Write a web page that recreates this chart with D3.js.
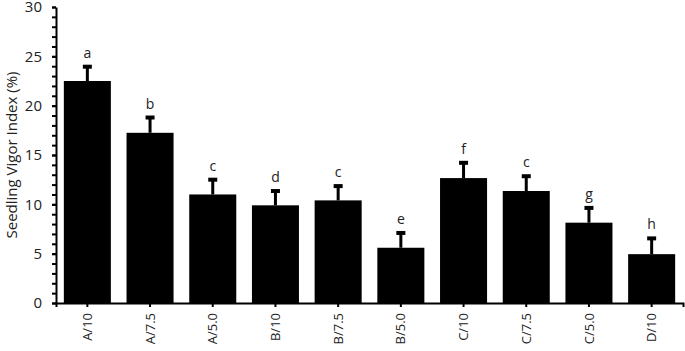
<html>
<head>
<script src="https://d3js.org/d3.v7.min.js"></script>
<style>
  body { margin: 0; background: #fff; }
  text { font-family: "Open Sans", "Liberation Sans", sans-serif; }
</style>
</head>
<body>
<svg id="chart" width="685" height="351"></svg>
<script>
var categories = ["A/10", "A/7.5", "A/5.0", "B/10", "B/7.5", "B/5.0", "C/10", "C/7.5", "C/5.0", "D/10"];
var values = [22.5, 17.25, 11.0, 9.9, 10.4, 5.6, 12.66, 11.35, 8.14, 4.95];
var errors = [1.55, 1.65, 1.6, 1.55, 1.55, 1.6, 1.65, 1.6, 1.6, 1.7];
var letters = ["a", "b", "c", "d", "c", "e", "f", "c", "g", "h"];
var yTicks = [0, 5, 10, 15, 20, 25, 30];

// note: "top" is reserved on window, so plot edges get their own names
var plotLeft = 56, plotRight = 683, plotTop = 7, plotBottom = 303;
var svg = d3.select("#chart");

var x = d3.scaleBand().domain(categories).range([plotLeft, plotRight]).paddingInner(0.25).paddingOuter(0.125);
var y = d3.scaleLinear().domain([0, 30]).range([plotBottom, plotTop]);

// minor ticks every unit
svg.append("g")
  .attr("transform", "translate(" + plotLeft + ",0)")
  .call(d3.axisLeft(y).tickValues(d3.range(0, 31)).tickSize(4).tickSizeOuter(0).tickFormat(""))
  .call(function(g){ g.selectAll("path, line").attr("stroke", "#000").attr("stroke-width", 2); });

var yAxis = svg.append("g")
  .attr("transform", "translate(" + plotLeft + ",0)")
  .call(d3.axisLeft(y).tickValues(yTicks).tickSize(4).tickPadding(10))
  .call(function(g){ g.select(".domain").remove(); });
yAxis.selectAll("line").attr("stroke", "#000").attr("stroke-width", 2);
yAxis.selectAll("text").attr("font-size", 15).attr("fill", "#222");

var xAxis = svg.append("g")
  .attr("transform", "translate(0," + plotBottom + ")")
  .call(d3.axisBottom(x).tickSize(4).tickSizeOuter(4));
xAxis.selectAll("path, line").attr("stroke", "#000").attr("stroke-width", 2);
xAxis.selectAll("text")
  .attr("font-size", 13).attr("fill", "#222")
  .attr("transform", "rotate(-90)")
  .attr("text-anchor", "end")
  .attr("x", -10).attr("y", 0).attr("dy", "0.35em");

svg.append("g").selectAll("rect").data(values).join("rect")
  .attr("x", function(d, i){ return x(categories[i]); })
  .attr("y", function(d){ return y(d); })
  .attr("width", x.bandwidth())
  .attr("height", function(d){ return plotBottom - y(d); })
  .attr("fill", "#000");

var eb = svg.append("g");
eb.selectAll("line").data(values).join("line")
  .attr("x1", function(d, i){ return x(categories[i]) + x.bandwidth() / 2; })
  .attr("x2", function(d, i){ return x(categories[i]) + x.bandwidth() / 2; })
  .attr("y1", function(d){ return y(d); })
  .attr("y2", function(d, i){ return y(d + errors[i]); })
  .attr("stroke", "#000").attr("stroke-width", 3);
eb.selectAll("rect").data(values).join("rect")
  .attr("x", function(d, i){ return x(categories[i]) + x.bandwidth() / 2 - 4.5; })
  .attr("y", function(d, i){ return y(d + errors[i]) - 1; })
  .attr("width", 9).attr("height", 4)
  .attr("fill", "#000");

svg.append("g").selectAll("text").data(values).join("text")
  .attr("x", function(d, i){ return x(categories[i]) + x.bandwidth() / 2; })
  .attr("y", function(d, i){ return y(d + errors[i]) - 8; })
  .attr("text-anchor", "middle")
  .attr("font-size", 14).attr("fill", "#222")
  .text(function(d, i){ return letters[i]; });

svg.append("text")
  .attr("transform", "translate(17," + ((plotTop + plotBottom) / 2) + ") rotate(-90)")
  .attr("text-anchor", "middle")
  .attr("font-size", 15).attr("fill", "#222")
  .text("Seedling Vigor Index (%)");
</script>
</body>
</html>
